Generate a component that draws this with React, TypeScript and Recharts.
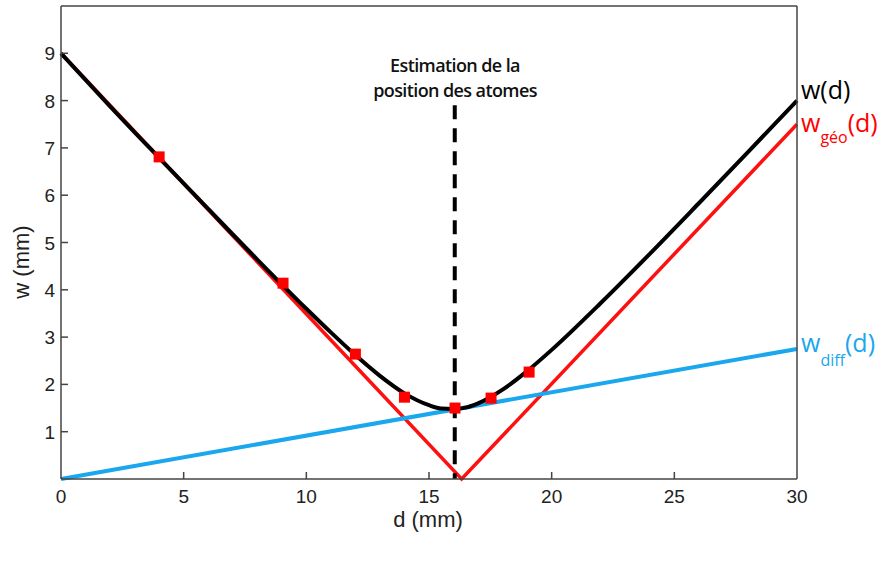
import React from 'react';
import { ComposedChart, Line, Scatter, XAxis, YAxis, ReferenceLine } from 'recharts';

// w(d) total beam width
const dTotal = [0, 2, 4, 6, 8, 10, 11, 12, 13, 14, 15, 15.5, 16, 16.5, 17, 18, 19, 20, 22, 24, 26, 28, 30];
const wTotal = [9.0, 7.88, 6.79, 5.71, 4.64, 3.6, 3.1, 2.62, 2.18, 1.81, 1.56, 1.49, 1.48, 1.51, 1.6, 1.89, 2.28, 2.73, 3.72, 4.76, 5.83, 6.91, 8.0];

// geometric part (red V)
const dGeo = [0, 16.33, 30];
const wGeo = [9.0, 0, 7.5];

// diffraction part (blue)
const dDiff = [0, 30];
const wDiff = [0, 2.75];

// measured points (red squares)
const dMeas = [4.0, 9.05, 12.0, 14.0, 16.06, 17.53, 19.08];
const wMeas = [6.81, 4.14, 2.64, 1.73, 1.5, 1.71, 2.26];

const atomPos = 16.05;
const atomTop = 7.9;

const xTicks = [0, 5, 10, 15, 20, 25, 30];
const yTicks = [1, 2, 3, 4, 5, 6, 7, 8, 9];

const totalData = dTotal.map((d, i) => ({ d, w: wTotal[i] }));
const geoData = dGeo.map((d, i) => ({ d, w: wGeo[i] }));
const diffData = dDiff.map((d, i) => ({ d, w: wDiff[i] }));
const measData = dMeas.map((d, i) => ({ d, w: wMeas[i] }));

const AXIS = '#444';
const TXT = '#222';
const FONT = '"Liberation Sans", Arial, sans-serif';
const TL = 7;

const BottomTick = (p: any) => (
  <g>
    {p.payload.value > 0 && p.payload.value < 30 && (
      <line x1={p.x} x2={p.x} y1={p.y} y2={p.y - TL} stroke={AXIS} strokeWidth={1.5} />
    )}
    <text x={p.x} y={p.y + 24} textAnchor="middle" fontSize={19} fontFamily={FONT} fill={TXT}>
      {p.payload.value}
    </text>
  </g>
);

const TopTick = (p: any) =>
  p.payload.value > 0 && p.payload.value < 30 ? (
    <line x1={p.x} x2={p.x} y1={p.y} y2={p.y + TL} stroke={AXIS} strokeWidth={1.5} />
  ) : (
    <g />
  );

const LeftTick = (p: any) => (
  <g>
    <line x1={p.x} x2={p.x + TL} y1={p.y} y2={p.y} stroke={AXIS} strokeWidth={1.5} />
    <text x={p.x - 6} y={p.y + 7} textAnchor="end" fontSize={19} fontFamily={FONT} fill={TXT}>
      {p.payload.value}
    </text>
  </g>
);

const RightTick = (p: any) => (
  <line x1={p.x} x2={p.x - TL} y1={p.y} y2={p.y} stroke={AXIS} strokeWidth={1.5} />
);

const Square = (p: any) => <rect x={p.cx - 5.5} y={p.cy - 5.5} width={11} height={11} fill="#ff0000" />;

export default function App() {
  return (
    <div style={{ position: 'absolute', left: 0, top: 0, width: 892, height: 566, background: '#fff' }}>
      <ComposedChart width={892} height={566} margin={{ top: 0, right: 0, bottom: 0, left: 0 }}>
        <XAxis
          xAxisId="b"
          dataKey="d"
          type="number"
          domain={[0, 30]}
          ticks={xTicks}
          interval={0}
          height={87}
          tickSize={0}
          tickMargin={0}
          tickLine={false}
          axisLine={{ stroke: AXIS, strokeWidth: 1.5 }}
          tick={BottomTick}
        />
        <XAxis
          xAxisId="t"
          orientation="top"
          dataKey="d"
          type="number"
          domain={[0, 30]}
          ticks={xTicks}
          interval={0}
          height={6}
          tickSize={0}
          tickMargin={0}
          tickLine={false}
          axisLine={{ stroke: AXIS, strokeWidth: 1.5 }}
          tick={TopTick}
        />
        <YAxis
          yAxisId="l"
          type="number"
          domain={[0, 10]}
          ticks={yTicks}
          interval={0}
          width={61}
          tickSize={0}
          tickMargin={0}
          tickLine={false}
          axisLine={{ stroke: AXIS, strokeWidth: 1.5 }}
          tick={LeftTick}
        />
        <YAxis
          yAxisId="r"
          orientation="right"
          type="number"
          domain={[0, 10]}
          ticks={yTicks}
          interval={0}
          width={95}
          tickSize={0}
          tickMargin={0}
          tickLine={false}
          axisLine={{ stroke: AXIS, strokeWidth: 1.5 }}
          tick={RightTick}
        />
        <Line xAxisId="b" yAxisId="l" data={geoData} dataKey="w" type="linear" stroke="#ff1010" strokeWidth={3.5} dot={false} isAnimationActive={false} />
        <Line xAxisId="b" yAxisId="l" data={diffData} dataKey="w" type="linear" stroke="#1aa7ee" strokeWidth={4} dot={false} isAnimationActive={false} />
        <Line xAxisId="b" yAxisId="l" data={totalData} dataKey="w" type="monotone" stroke="#000" strokeWidth={4} dot={false} isAnimationActive={false} />
        <ReferenceLine
          xAxisId="b"
          yAxisId="l"
          segment={[{ x: atomPos, y: atomTop }, { x: atomPos, y: 0 }]}
          stroke="#000"
          strokeWidth={4}
          strokeDasharray="14 9"
        />
        <Scatter xAxisId="b" yAxisId="l" data={measData} dataKey="w" shape={Square} isAnimationActive={false} />
      </ComposedChart>
      <svg width={892} height={566} style={{ position: 'absolute', left: 0, top: 0, pointerEvents: 'none' }}>
        <g fontFamily={FONT} fontSize={22} fill={TXT} textAnchor="middle">
          <text x={428} y={527}>d (mm)</text>
          <text x={0} y={0} transform="translate(29 262) rotate(-90)">w (mm)</text>
        </g>
        <g fontFamily='"Open Sans", sans-serif' fontWeight={600} fontSize={18} fill="#111" textAnchor="middle" letterSpacing={-0.6}>
          <text x={455} y={72}>Estimation de la</text>
          <text x={455} y={97}>position des atomes</text>
        </g>
        <g fontFamily='"Open Sans", sans-serif' fontSize={25}>
          <text x={801} y={99} fill="#000">w(d)</text>
          <text x={801} y={132} fill="#ff0000">
            w<tspan fontSize={16} dy={11}>géo</tspan>
            <tspan dy={-11}>(d)</tspan>
          </text>
          <text x={801} y={352} fill="#1aa7ee">
            w<tspan fontSize={16} dy={14}>diff</tspan>
            <tspan dy={-14}>(d)</tspan>
          </text>
        </g>
      </svg>
    </div>
  );
}
